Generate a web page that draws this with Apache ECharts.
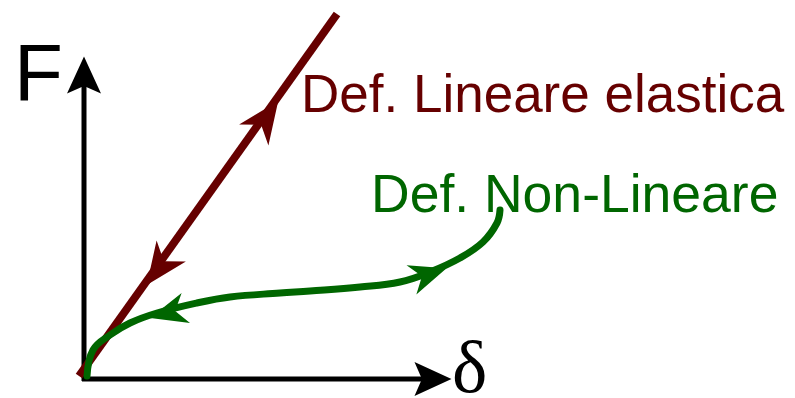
<!DOCTYPE html>
<html>
<head>
<meta charset="utf-8">
<script src="https://cdn.jsdelivr.net/npm/echarts@6/dist/echarts.min.js"></script>
<style>
  html, body { margin: 0; padding: 0; background: #fff; }
  #chart { width: 795px; height: 398px; }
</style>
</head>
<body>
<div id="chart"></div>
<script>
// origin of the diagram = corner of the two axes
const xAxisLine = [[-2, 0], [352, 0]];
const yAxisLine = [[0, -2], [0, 300]];
// arrow heads: [x, y, direction in degrees]
const axisArrows = [[349, 0, 0], [0, 304, 90]];

// linear elastic deformation (straight line)
const linearLine = [[-5, 3], [253, 365]];
const linearArrows = [[182, 261, 54.4], [75, 111, 234.4]];

// non-linear deformation (curve)
const nonLinearCurve = [
  [3, 3], [9, 29], [26, 44], [46, 56], [73, 66], [113, 76], [146, 82],
  [196, 86], [226, 88], [276, 92], [316, 97], [346, 107], [376, 121],
  [399, 137], [413, 156], [416, 169]
];
const nonLinearArrows = [[345, 105, 18.4], [84, 66, 195.7]];

const labels = ["F", "δ", "Def. Lineare elastica", "Def. Non-Lineare"];

const axisHead = "path://M50,0L100,100L50,80L0,100Z";
const curveHead = "path://M50,0L100,100L50,70L0,100Z";

const chart = echarts.init(document.getElementById("chart"));

function arrowPoints(list) {
  return list.map(([x, y, dir]) => ({ value: [x, y], symbolRotate: dir - 90 }));
}

chart.setOption({
  animation: false,
  grid: { left: 0, right: 0, top: 0, bottom: 0, containLabel: false },
  xAxis: { type: "value", min: -84, max: 711, show: false },
  yAxis: { type: "value", min: -19, max: 379, show: false },
  series: [
    {
      type: "line", data: xAxisLine, showSymbol: false,
      lineStyle: { color: "#000", width: 5 }, z: 1,
    },
    {
      type: "line", data: yAxisLine, showSymbol: false,
      lineStyle: { color: "#000", width: 5 }, z: 1,
    },
    {
      type: "scatter", data: arrowPoints(axisArrows), symbol: axisHead,
      symbolSize: [34, 37], itemStyle: { color: "#000", opacity: 1 }, z: 2,
    },
    {
      type: "line", data: linearLine, showSymbol: false,
      lineStyle: { color: "#660000", width: 8 }, z: 3,
    },
    {
      type: "scatter", data: arrowPoints(linearArrows), symbol: curveHead,
      symbolSize: [36, 42], itemStyle: { color: "#660000", opacity: 1 }, z: 4,
    },
    {
      type: "line", data: nonLinearCurve, showSymbol: false, smooth: 0.4,
      lineStyle: { color: "#006600", width: 7, cap: "round" }, z: 5,
    },
    {
      type: "scatter", data: arrowPoints(nonLinearArrows), symbol: curveHead,
      symbolSize: [31, 37], itemStyle: { color: "#006600", opacity: 1 }, z: 6,
    },
  ],
  graphic: [
    {
      type: "text", z: 10,
      style: { text: labels[0], x: 14, y: 78, fill: "#000", textVerticalAlign: "middle",
        font: "80px 'Liberation Sans', Arial, sans-serif" },
    },
    {
      type: "text", z: 10,
      style: { text: labels[1], x: 452, y: 372, fill: "#000", textVerticalAlign: "middle",
        font: "75px 'Liberation Serif', 'Times New Roman', serif" },
    },
    {
      type: "text", z: 10,
      style: { text: labels[2], x: 301, y: 97, fill: "#660000", textVerticalAlign: "middle",
        font: "53px 'Liberation Sans', Arial, sans-serif" },
    },
    {
      type: "text", z: 10,
      style: { text: labels[3], x: 371, y: 197, fill: "#006600", textVerticalAlign: "middle",
        font: "53.5px 'Liberation Sans', Arial, sans-serif" },
    },
  ],
});
</script>
</body>
</html>
